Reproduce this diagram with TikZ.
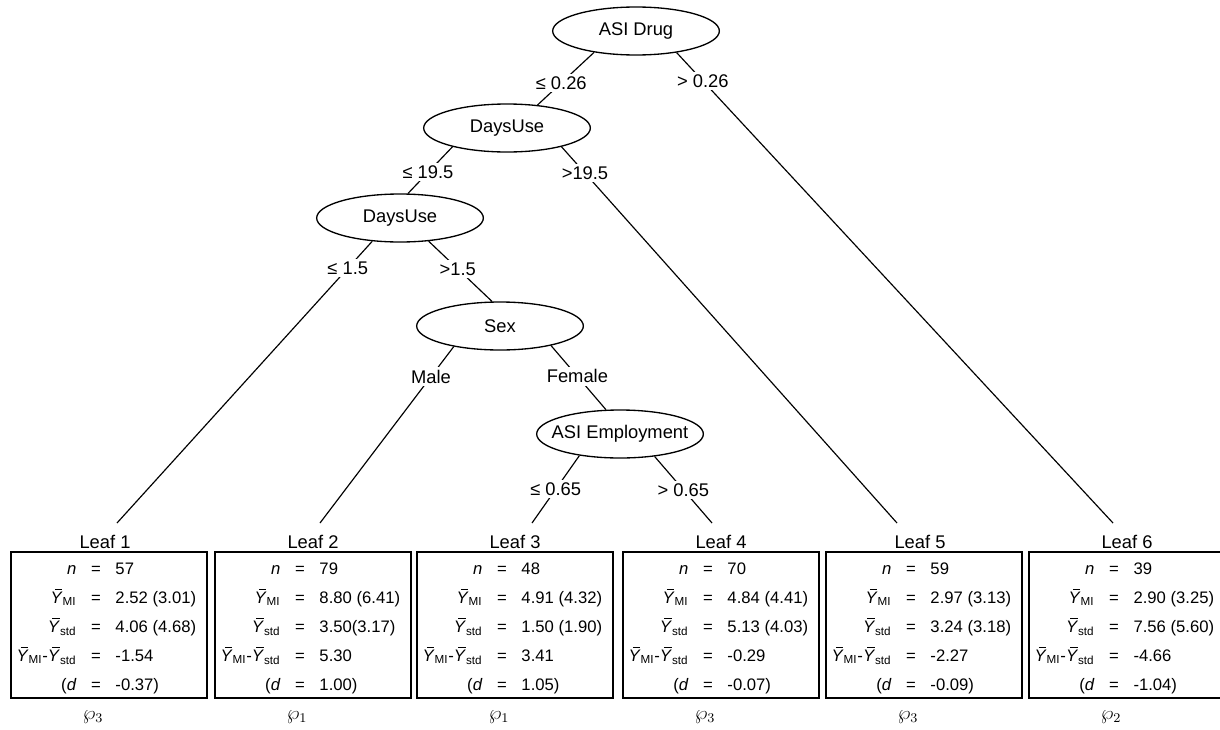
\documentclass[tikz,border=0pt]{standalone}
\usepackage{fontspec}
\setmainfont{Liberation Sans}
\usetikzlibrary{
  positioning,
  shapes.geometric
}
\newcommand{\ybar}{\textit{Y}\llap{\rule[8.3pt]{4.4pt}{0.45pt}\hspace{0.3pt}}}
\newcommand{\leafrow}[2]{%
  \makebox[39pt][r]{#1}\makebox[23.4pt]{=}\makebox[54.6pt][l]{#2}}
\newcommand{\leafstats}[5]{%
  \rule{0pt}{11pt}\leafrow{\textit{n}}{#1}\\
  \leafrow{\ybar\textsubscript{MI}}{#2}\\
  \leafrow{\ybar\textsubscript{std}}{#3}\\
  \leafrow{\ybar\textsubscript{MI}-\ybar\textsubscript{std}}{#4}\\
  \leafrow{(\textit{d}}{#5)}}
\tikzset{
  split/.style={
    ellipse,
    draw,
    line width=0.8pt,
    minimum width=100pt,
    minimum height=28.8pt,
    inner sep=0pt,
    font=\fontsize{11}{13}\selectfont,
    execute at begin node={\hbox to 0pt\bgroup\hss},
    execute at end node={\hss\egroup}
  },
  cond/.style={fill=white, inner sep=1.5pt, font=\fontsize{11}{13}\selectfont},
  leafbox/.style={
    draw,
    line width=1.2pt,
    minimum width=117.6pt,
    minimum height=87.6pt,
    inner sep=0pt,
    align=left,
    font=\fontsize{10}{17.4}\selectfont
  },
  leaftag/.style={inner sep=0pt, font=\fontsize{11}{13}\selectfont},
  group/.style={inner sep=0pt, font=\fontsize{12}{14}\selectfont},
  branch/.style={line width=0.7pt}
}

\begin{document}
\begin{tikzpicture}[x=0.6pt, y=-0.6pt]
  \useasboundingbox (0,0) rectangle (1220,729);

  % splits
  \node[split] (drug) at (636,31) {ASI Drug};
  \node[split] (daysA) at (507,128) {DaysUse};
  \node[split] (daysB) at (400,218) {DaysUse};
  \node[split] (sex) at (500,326) {Sex};
  \node[split] (employ) at (620,434) {ASI Employment};

  % leaves
  \node[leafbox] (leaf1) at (109,625)
    {\leafstats{57}{2.52 (3.01)}{4.06 (4.68)}{-1.54}{-0.37}};
  \node[leafbox] (leaf2) at (313,625)
    {\leafstats{79}{8.80 (6.41)}{3.50(3.17)}{5.30}{1.00}};
  \node[leafbox] (leaf3) at (515,625)
    {\leafstats{48}{4.91 (4.32)}{1.50 (1.90)}{3.41}{1.05}};
  \node[leafbox] (leaf4) at (721,625)
    {\leafstats{70}{4.84 (4.41)}{5.13 (4.03)}{-0.29}{-0.07}};
  \node[leafbox] (leaf5) at (924,625)
    {\leafstats{59}{2.97 (3.13)}{3.24 (3.18)}{-2.27}{-0.09}};
  \node[leafbox] (leaf6) at (1127,625)
    {\leafstats{39}{2.90 (3.25)}{7.56 (5.60)}{-4.66}{-1.04}};

  \node[leaftag, above=1.2pt of leaf1, xshift=-2.4pt] (tag1) {Leaf 1};
  \node[leaftag, above=1.2pt of leaf2] (tag2) {Leaf 2};
  \node[leaftag, above=1.2pt of leaf3] (tag3) {Leaf 3};
  \node[leaftag, above=1.2pt of leaf4] (tag4) {Leaf 4};
  \node[leaftag, above=1.2pt of leaf5, xshift=-2.4pt] (tag5) {Leaf 5};
  \node[leaftag, above=1.2pt of leaf6] (tag6) {Leaf 6};

  \node[group, below=7pt of leaf1, xshift=-9.6pt] (grp1) {$\wp_3$};
  \node[group, below=7pt of leaf2, xshift=-9.6pt] (grp2) {$\wp_1$};
  \node[group, below=7pt of leaf3, xshift=-9.6pt] (grp3) {$\wp_1$};
  \node[group, below=7pt of leaf4, xshift=-9.6pt] (grp4) {$\wp_3$};
  \node[group, below=7pt of leaf5, xshift=-9.6pt] (grp5) {$\wp_3$};
  \node[group, below=7pt of leaf6, xshift=-9.6pt] (grp6) {$\wp_2$};

  \coordinate (end1) at (117,523);
  \coordinate (end2) at (320,523);
  \coordinate (end3) at (532,523);
  \coordinate (end4) at (712,523);
  \coordinate (end5) at (897,523);
  \coordinate (end6) at (1113,523);

  % branches
  \draw[branch] (drug.207) -- node[cond, pos=0.58] {≤ 0.26} (daysA.37);
  \draw[branch] (drug.332) -- node[cond, pos=0.06] {> 0.26} (end6);
  \draw[branch] (daysA.199) -- node[cond, pos=0.55] {≤ 19.5} (daysB.72);
  \draw[branch] (daysA.341) -- node[cond, pos=0.07] {>19.5} (end5);
  \draw[branch] (daysB.220) -- node[cond, pos=0.096] {≤ 1.5} (end1);
  \draw[branch] (daysB.321) -- node[cond, pos=0.46] {>1.5} (sex.108);
  \draw[branch] (sex.204) -- node[cond, pos=0.17] {Male} (end2);
  \draw[branch] (sex.339) -- node[cond, pos=0.48] {Female} (employ.120);
  \draw[branch] (employ.208) -- node[cond, pos=0.5] {≤ 0.65} (end3);
  \draw[branch] (employ.327) -- node[cond, pos=0.5] {> 0.65} (end4);
\end{tikzpicture}
\end{document}
